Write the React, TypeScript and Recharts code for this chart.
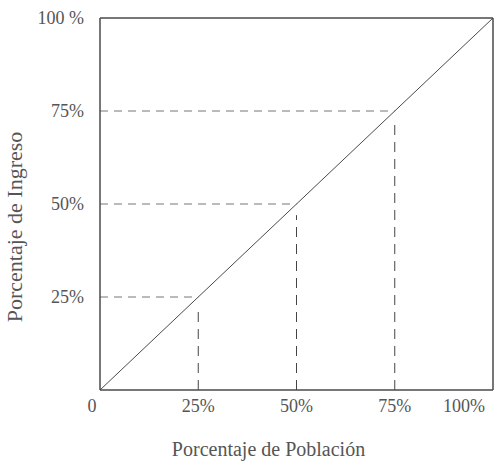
import { LineChart, Line, XAxis, YAxis, ReferenceLine } from 'recharts';

// Equality line of the Lorenz diagram: % population vs % income
const population = [0, 100];
const income = [0, 100];
const ticks = [0, 25, 50, 75, 100];
const guides = [25, 50, 75];

const data = population.map((p, i) => ({ p, income: income[i] }));

const ink = '#4a4a4a';
const textColor = '#555555';
const font = '"Liberation Serif", "DejaVu Serif", serif';

function XTick({ x, y, payload }: any) {
    const v = payload.value;
    let anchor: 'middle' | 'end' = 'middle';
    let dx = 0;
    if (v === 0) dx = -8;
    if (v === 100) anchor = 'end';
    return (
        <text
            x={x + dx}
            y={y + 14}
            textAnchor={anchor}
            fill={textColor}
            fontSize={18}
            fontFamily={font}
        >
            {v === 0 ? '0' : `${v}%`}
        </text>
    );
}

function YTick({ x, y, payload }: any) {
    const v = payload.value;
    if (v === 0) return null;
    return (
        <text
            x={x + 4}
            y={y + 6}
            textAnchor="end"
            fill={textColor}
            fontSize={18}
            fontFamily={font}
        >
            {v === 100 ? '100 %' : `${v}%`}
        </text>
    );
}

function YLabel({ viewBox }: any) {
    const cy = viewBox.y + viewBox.height / 2 + 23;
    return (
        <text
            x={22}
            y={cy}
            transform={`rotate(-90 22 ${cy})`}
            textAnchor="middle"
            fill={textColor}
            fontSize={22}
            fontFamily={font}
        >
            Porcentaje de Ingreso
        </text>
    );
}

export default function App() {
    return (
        <div style={{ position: 'absolute', left: 0, top: 0, background: '#fff' }}>
            <LineChart
                width={497}
                height={462}
                data={data}
                margin={{ top: 18, right: 4, bottom: 0, left: 0 }}
            >
                <XAxis
                    dataKey="p"
                    type="number"
                    domain={[0, 100]}
                    ticks={ticks}
                    height={72}
                    tickLine={false}
                    axisLine={{ stroke: ink, strokeWidth: 1.5 }}
                    tick={<XTick />}
                    label={{
                        value: 'Porcentaje de Población',
                        position: 'insideBottom',
                        offset: 6,
                        fill: textColor,
                        fontSize: 20,
                        fontFamily: font,
                        dx: -28,
                    }}
                />
                <YAxis
                    type="number"
                    domain={[0, 100]}
                    ticks={ticks}
                    width={100}
                    tickLine={false}
                    tickMargin={14}
                    axisLine={{ stroke: ink, strokeWidth: 1.5 }}
                    tick={<YTick />}
                    label={<YLabel />}
                />
                <ReferenceLine y={100} stroke={ink} strokeWidth={1.5} />
                <ReferenceLine x={100} stroke={ink} strokeWidth={1.5} />
                {guides.map((g) => (
                    <ReferenceLine
                        key={`h-${g}`}
                        segment={[
                            { x: 0, y: g },
                            { x: g, y: g },
                        ]}
                        stroke="#777"
                        strokeDasharray="8 6"
                    />
                ))}
                {guides.map((g) => (
                    <ReferenceLine
                        key={`v-${g}`}
                        segment={[
                            { x: g, y: 0 },
                            { x: g, y: g - 3 },
                        ]}
                        stroke="#444"
                        strokeDasharray="10 7"
                    />
                ))}
                <Line
                    dataKey="income"
                    stroke={ink}
                    strokeWidth={1}
                    dot={false}
                    isAnimationActive={false}
                />
            </LineChart>
        </div>
    );
}
